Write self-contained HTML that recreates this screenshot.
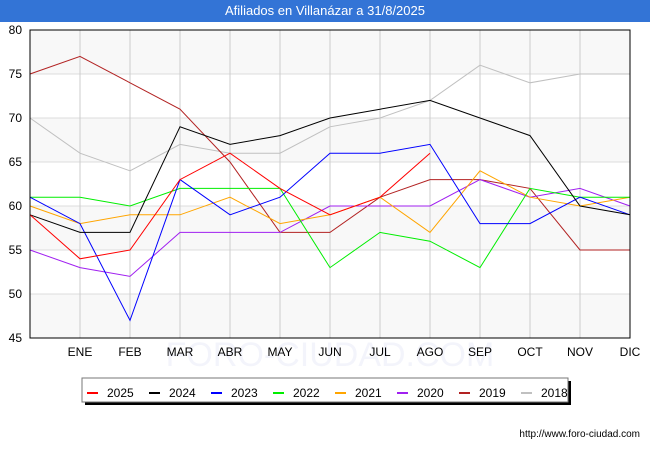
<!DOCTYPE html>
<html><head><meta charset="utf-8"><style>
body{margin:0;background:#fff;font-family:"Liberation Sans","DejaVu Sans",sans-serif}
#title{position:absolute;left:0;top:0;width:650px;height:22px;background:#3374d6;color:#fff;font-size:13px;text-align:center;line-height:22px;z-index:2}
</style></head><body>
<div id="title">Afiliados en Villanázar a 31/8/2025</div>
<svg id="c" width="650" height="450" style="position:absolute;left:0;top:0"></svg>
<script>
const months=["","ENE","FEB","MAR","ABR","MAY","JUN","JUL","AGO","SEP","OCT","NOV","DIC"];
const yTicks=[45,50,55,60,65,70,75,80];
const years=["2025","2024","2023","2022","2021","2020","2019","2018"];
const colors=["#ff0000","#000000","#0000ff","#00ee00","#ffa500","#a020f0","#b22222","#c0c0c0"];
const s2025=[59,54,55,63,66,62,59,61,66];
const s2024=[59,57,57,69,67,68,70,71,72,70,68,60,59];
const s2023=[61,58,47,63,59,61,66,66,67,58,58,61,59];
const s2022=[61,61,60,62,62,62,53,57,56,53,62,61,61];
const s2021=[60,58,59,59,61,58,59,61,57,64,61,60,61];
const s2020=[55,53,52,57,57,57,60,60,60,63,61,62,60];
const s2019=[75,77,74,71,65,57,57,61,63,63,62,55,55];
const s2018=[70,66,64,67,66,66,69,70,72,76,74,75,75];
const series=[s2025,s2024,s2023,s2022,s2021,s2020,s2019,s2018];
const NS="http://www.w3.org/2000/svg";
const svg=document.getElementById('c');
const X0=30,X1=630,Y0=338,Y1=30;
const xs=i=>X0+i*(X1-X0)/12;
const ys=v=>Y0-(v-45)*(Y0-Y1)/35;
function mk(t,a,p){const e=document.createElementNS(NS,t);for(const k in a)e.setAttribute(k,a[k]);(p||svg).appendChild(e);return e;}
for(let i=0;i<yTicks.length-1;i++){
  const r=mk('rect',{x:X0,y:ys(yTicks[i+1]),width:X1-X0,height:ys(yTicks[i])-ys(yTicks[i+1]),fill:(i%2==0)?'#f8f8f8':'#ffffff'});
  
  
}
const wm=mk('text',{x:330,y:366,'font-size':34,'text-anchor':'middle',fill:'#f3f4fb'});
wm.textContent='FORO-CIUDAD.COM';


yTicks.forEach(v=>{
  const l=mk('line',{x1:X0,x2:X1,y1:ys(v),y2:ys(v),stroke:'#dddddd'});
  
  
  const t=mk('text',{x:22,y:ys(v)+4,'font-size':12,'text-anchor':'end',fill:'#000'});
  t.textContent=v;
  
  
});
months.forEach((m,i)=>{
  if(i>0){
    const l=mk('line',{x1:xs(i),x2:xs(i),y1:Y1,y2:Y0,stroke:'#cccccc'});
    
    
  }
  const t=mk('text',{x:xs(i),y:356,'font-size':12,'text-anchor':'middle',fill:'#000'});
  t.textContent=m;
  
  
});
for(let k=series.length-1;k>=0;k--){
  const pts=series[k].map((v,i)=>xs(i)+','+ys(v)).join(' ');
  const p=mk('polyline',{points:pts,fill:'none',stroke:colors[k],'stroke-width':1});
  
  
}
const b=mk('rect',{x:X0,y:Y1,width:X1-X0,height:Y0-Y1,fill:'none',stroke:'#000'});


const sh=mk('rect',{x:85,y:381,width:486,height:24,fill:'#000'});


const lb=mk('rect',{x:82,y:378,width:486,height:24,fill:'#fff',stroke:'#777'});


years.forEach((y,k)=>{
  const x=87+k*62;
  const l=mk('line',{x1:x,x2:x+11,y1:393,y2:393,stroke:colors[k],'stroke-width':2});
  
  
  const t=mk('text',{x:x+20,y:397,'font-size':12,fill:'#000'});
  t.textContent=y;
  
  
});
const f=mk('text',{x:640,y:437,'font-size':10,'text-anchor':'end',fill:'#000'});
f.textContent='http://www.foro-ciudad.com';


</script>
</body></html>
